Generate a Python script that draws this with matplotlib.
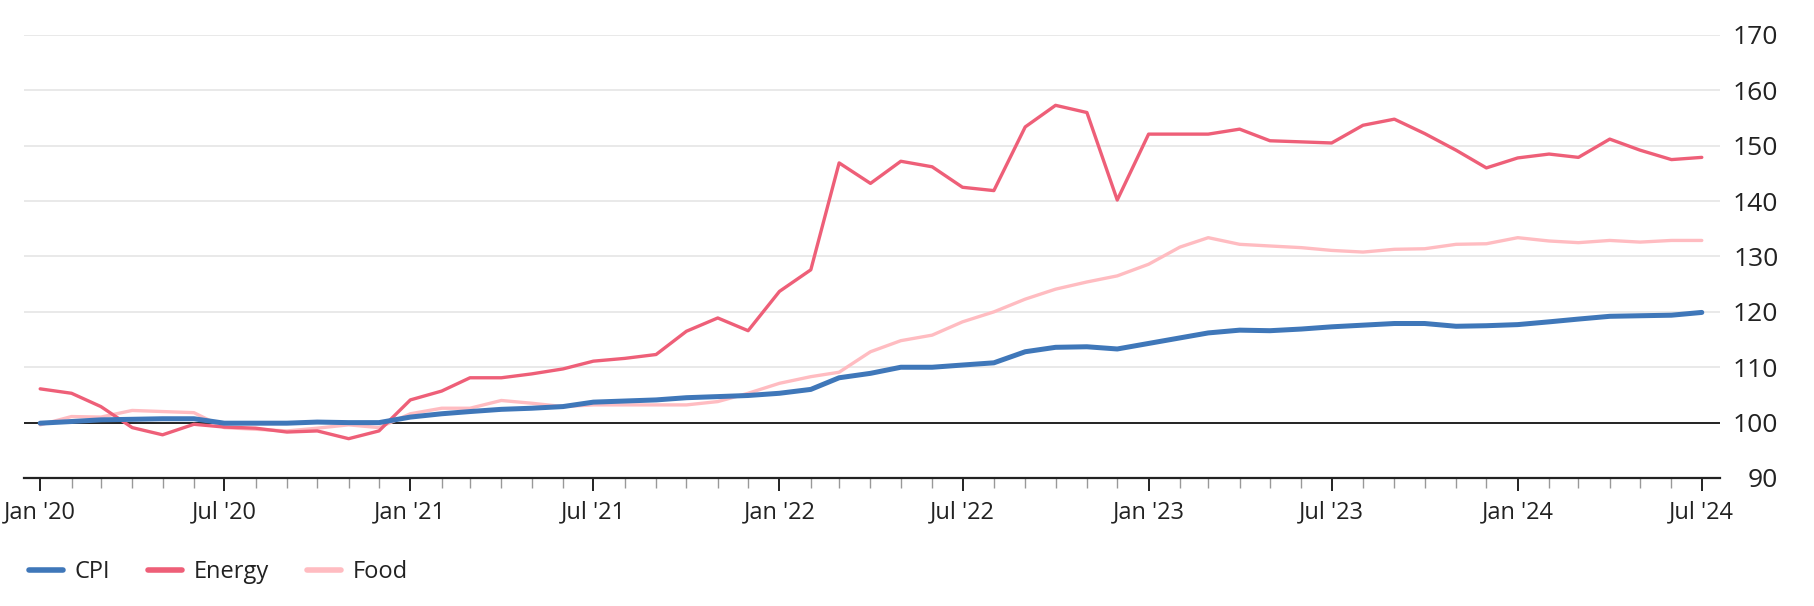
import matplotlib
matplotlib.use("Agg")
import matplotlib.pyplot as plt
import matplotlib.dates as mdates
import pandas as pd

# monthly index values, Jan 2020 .. Jul 2024
months = pd.date_range("2020-01-01", "2024-07-01", freq="MS")

cpi = [99.9, 100.2, 100.5, 100.6, 100.7, 100.7, 99.9, 99.9, 99.9, 100.1, 100.0, 100.0,
       101.0, 101.6, 102.0, 102.4, 102.6, 102.9, 103.7, 103.9, 104.1, 104.5, 104.7, 104.9,
       105.3, 106.0, 108.1, 108.9, 110.0, 110.0, 110.4, 110.8, 112.8, 113.6, 113.7, 113.3,
       114.3, 115.3, 116.2, 116.7, 116.6, 116.9, 117.3, 117.6, 117.9, 117.9, 117.4, 117.5,
       117.7, 118.2, 118.7, 119.2, 119.3, 119.4, 119.9]

energy = [106.1, 105.3, 102.9, 99.1, 97.8, 99.7, 99.2, 99.0, 98.3, 98.5, 97.1, 98.5,
          104.1, 105.7, 108.1, 108.1, 108.8, 109.7, 111.1, 111.6, 112.3, 116.5, 118.9, 116.6,
          123.7, 127.6, 146.9, 143.2, 147.2, 146.2, 142.5, 141.9, 153.4, 157.3, 156.0, 140.2,
          152.1, 152.1, 152.1, 153.0, 150.9, 150.7, 150.5, 153.7, 154.8, 152.2, 149.2, 146.0,
          147.8, 148.5, 147.9, 151.2, 149.2, 147.5, 147.9]

food = [99.6, 101.1, 101.0, 102.2, 102.0, 101.8, 99.1, 98.8, 98.5, 99.0, 99.6, 99.1,
        101.6, 102.6, 102.6, 104.0, 103.5, 102.9, 103.2, 103.2, 103.2, 103.2, 103.8, 105.3,
        107.1, 108.3, 109.1, 112.8, 114.8, 115.8, 118.2, 120.0, 122.3, 124.1, 125.4, 126.5,
        128.6, 131.7, 133.4, 132.2, 131.9, 131.6, 131.1, 130.8, 131.3, 131.4, 132.2, 132.3,
        133.4, 132.8, 132.5, 132.9, 132.6, 132.9, 132.9]

series_names = ["CPI", "Energy", "Food"]
colors = ["#3f77b9", "#ee5f78", "#ffbcc1"]
widths = [3.6, 2.4, 2.4]

y_ticks = [90, 100, 110, 120, 130, 140, 150, 160, 170]

txt = "#222222"
plt.rcParams["font.family"] = ["Open Sans", "DejaVu Sans"]

fig = plt.figure(figsize=(18.14, 6.06), dpi=100)
ax = fig.add_axes([24 / 1814, (606 - 478) / 606, (1720 - 24) / 1814, (478 - 35) / 606])

# food at the bottom, CPI on top
data = [cpi, energy, food]
for i in [2, 1, 0]:
    ax.plot(months, data[i], color=colors[i], lw=widths[i], label=series_names[i],
            solid_capstyle="round", solid_joinstyle="round", zorder=3 + (2 - i))

ax.set_ylim(90, 170)
ax.set_yticks(y_ticks)
for v in y_ticks[2:]:
    ax.axhline(v, color="#e5e5e5", lw=1.2, zorder=1)
ax.axhline(100, color="#222222", lw=1.4, zorder=2)

ax.set_xlim(months[0] - pd.Timedelta(days=16), months[-1] + pd.Timedelta(days=18))

for s in ["top", "right", "left"]:
    ax.spines[s].set_visible(False)
ax.spines["bottom"].set_color("#222222")
ax.spines["bottom"].set_linewidth(1.6)

ax.xaxis.set_major_locator(mdates.MonthLocator(bymonth=[1, 7]))
ax.xaxis.set_major_formatter(mdates.DateFormatter("%b '%y"))
ax.xaxis.set_minor_locator(mdates.MonthLocator())
ax.tick_params(axis="x", which="major", length=9, width=1.4, color="#222222",
               labelsize=17, labelcolor=txt, pad=7)
ax.tick_params(axis="x", which="minor", length=7, width=1.0, color="#999999")

ax.yaxis.tick_right()
ax.tick_params(axis="y", length=0, labelsize=19, labelcolor=txt, pad=42)
for lab in ax.get_yticklabels():
    lab.set_horizontalalignment("right")

handles, labels = ax.get_legend_handles_labels()
hmap = dict(zip(labels, handles))
leg = fig.legend([hmap[n] for n in series_names], series_names, loc="center left",
                 bbox_to_anchor=(0.004, 0.056), ncol=3, frameon=False, fontsize=17,
                 handlelength=1.45, handletextpad=0.5, columnspacing=1.6)
for t in leg.get_texts():
    t.set_color(txt)
for l in leg.get_lines():
    l.set_linewidth(4)
    l.set_solid_capstyle("round")

fig.savefig("out.png", dpi=100)
